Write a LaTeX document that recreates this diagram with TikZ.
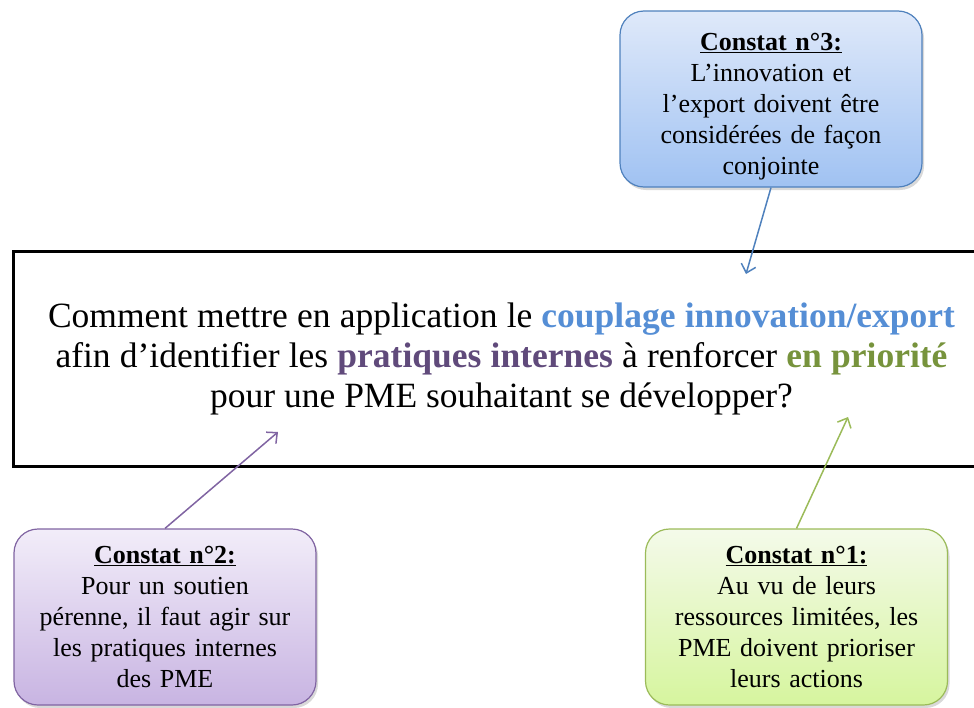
\documentclass[tikz,border=0pt]{standalone}
\usepackage{fontspec}
\setmainfont{Liberation Serif}
\usetikzlibrary{arrows.meta,shadows}
\definecolor{blueline}{RGB}{79,129,189}
\definecolor{bluetop}{RGB}{223,233,250}
\definecolor{bluebottom}{RGB}{160,194,242}
\definecolor{purpleline}{RGB}{128,100,162}
\definecolor{purpletop}{RGB}{242,237,249}
\definecolor{purplebottom}{RGB}{200,180,226}
\definecolor{greenline}{RGB}{155,187,89}
\definecolor{greentop}{RGB}{244,250,234}
\definecolor{greenbottom}{RGB}{214,245,158}
\definecolor{bluetext}{RGB}{85,142,213}
\definecolor{purpletext}{RGB}{96,74,123}
\definecolor{greentext}{RGB}{119,147,60}

\begin{document}
\begin{tikzpicture}[x=1pt,y=-1pt,
    question/.style={draw,line width=3pt,minimum width=977pt,minimum height=215pt,
      inner sep=0pt,align=center,font=\fontsize{35.5}{40}\selectfont,
      execute at begin node={\rule{0pt}{38pt}}},
    constat/.style={draw=#1line,line width=1.2pt,rounded corners=24pt,
      minimum width=302pt,minimum height=176pt,text width=290pt,inner sep=0pt,
      align=center,top color=#1top,bottom color=#1bottom,
      drop shadow={opacity=0.3,shadow xshift=2pt,shadow yshift=-3pt},
      font=\fontsize{26}{31}\selectfont},
    link/.style={draw=#1line,line width=1.5pt,-{Straight Barb[length=8pt,width=15pt]}}]
    \useasboundingbox (0,0) rectangle (974,707);
    \clip (0,0) rectangle (974,707);
    \node[question] (question) at (501.5,358.5)
      {\makebox[907pt][s]{Comment mettre en application le \textcolor{bluetext}{\textbf{couplage innovation/export}}}\\
       \makebox[892pt][s]{afin d’identifier les \textcolor{purpletext}{\textbf{pratiques internes}} à renforcer \textcolor{greentext}{\textbf{en priorité}}}\\
       pour une PME souhaitant se développer?};
    \node[constat=blue,execute at begin node={\rule{0pt}{33pt}}] (constat3) at (771,99)
      {\underline{\textbf{Constat n°3:}}\\ L’innovation et\\ l’export doivent être\\ considérées de façon\\ conjointe};
    \node[constat=purple] (constat2) at (165,617)
      {\underline{\textbf{Constat n°2:}}\\ Pour un soutien\\ pérenne, il faut agir sur\\ les pratiques internes\\ des PME};
    \node[constat=green] (constat1) at (796.5,617)
      {\underline{\textbf{Constat n°1:}}\\ Au vu de leurs\\ ressources limitées, les\\ PME doivent prioriser\\ leurs actions};
    \coordinate (tip3) at (746,274);
    \coordinate (tip2) at (278,432);
    \coordinate (tip1) at (848,417);
    \draw[link=blue] (constat3.south) -- (tip3);
    \draw[link=purple] (constat2.north) -- (tip2);
    \draw[link=green] (constat1.north) -- (tip1);
\end{tikzpicture}
\end{document}
